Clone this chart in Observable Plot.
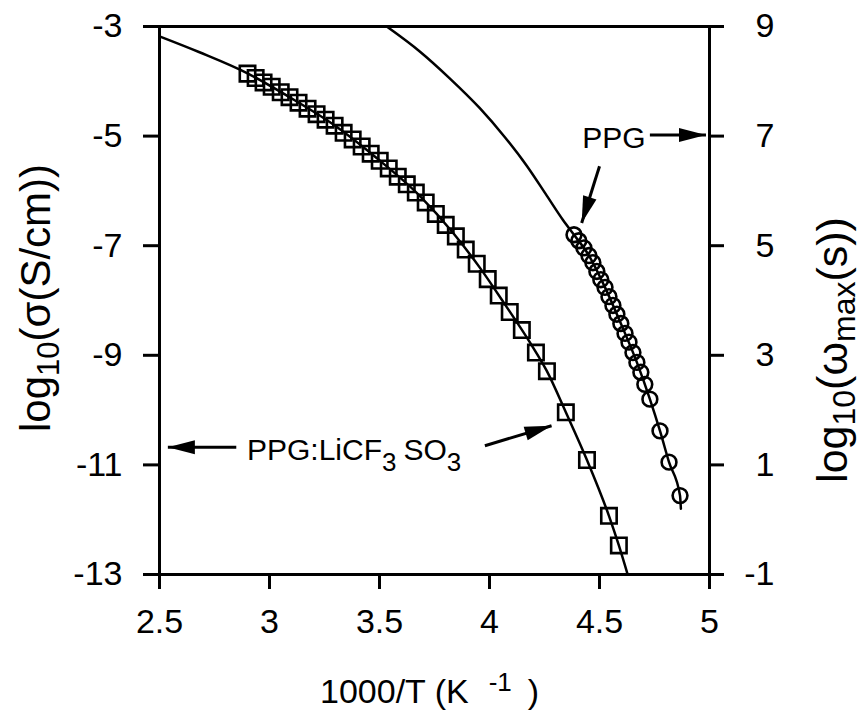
<!DOCTYPE html>
<html><head><meta charset="utf-8">
<script src="https://cdn.jsdelivr.net/npm/d3@7"></script>
<script src="https://cdn.jsdelivr.net/npm/@observablehq/plot@0.6"></script>
<style>
body{margin:0;background:#fff;}
svg{font-family:"Liberation Sans", Arial, sans-serif;}
</style>
</head><body><div id="chart"></div>
<script>
// PPG:LiCF3SO3 conductivity (left axis, log10 sigma)
const sqX = [2.900,2.937,2.973,3.010,3.051,3.091,3.132,3.173,3.214,3.255,3.296,3.337,3.378,3.419,3.460,3.501,3.542,3.583,3.624,3.665,3.710,3.756,3.801,3.847,3.892,3.942,3.992,4.042,4.092,4.147,4.211,4.261,4.347,4.443,4.543,4.588];
const sqY = [-3.86,-3.94,-4.02,-4.10,-4.20,-4.29,-4.39,-4.50,-4.60,-4.70,-4.81,-4.94,-5.06,-5.19,-5.32,-5.45,-5.59,-5.74,-5.88,-6.03,-6.21,-6.42,-6.62,-6.83,-7.07,-7.33,-7.61,-7.91,-8.21,-8.54,-8.95,-9.29,-10.04,-10.91,-11.93,-12.47];
// fitted curve through the squares
const sqFitX = [2.5,2.682,2.900,3.091,3.287,3.487,3.683,3.833,3.956,4.070,4.183,4.261,4.347,4.443,4.543,4.588,4.628];
const sqFitY = [-3.18,-3.47,-3.855,-4.29,-4.78,-5.40,-6.09,-6.76,-7.40,-8.07,-8.76,-9.29,-10.04,-10.91,-11.93,-12.47,-13.0];
// PPG relaxation (right axis, log10 omega_max)
const ciX = [4.384,4.406,4.429,4.452,4.470,4.488,4.506,4.525,4.543,4.561,4.579,4.597,4.616,4.634,4.652,4.670,4.688,4.706,4.729,4.775,4.816,4.866];
const ciW = [5.20,5.09,4.96,4.82,4.69,4.53,4.38,4.24,4.07,3.91,3.75,3.58,3.40,3.24,3.05,2.87,2.69,2.47,2.20,1.62,1.05,0.44];
const ciFitX = [3.533,3.683,3.819,3.956,4.070,4.170,4.261,4.334,4.384,4.452,4.525,4.597,4.670,4.729,4.775,4.816,4.866,4.870];
const ciFitW = [9.0,8.545,8.055,7.51,6.98,6.455,5.91,5.47,5.20,4.82,4.24,3.58,2.87,2.20,1.62,1.05,0.44,0.20];

const xTicks = [2.5,3,3.5,4,4.5,5];
const yTicks = [-3,-5,-7,-9,-11,-13];
const rightOffset = 12; // right axis value = left axis value + 12

// annotations (left-axis units)
const arrowX1 = [2.849, 3.979, 4.500, 4.729];
const arrowY1 = [-10.68, -10.65, -5.55, -4.98];
const arrowX2 = [2.538, 4.282, 4.419, 4.984];
const arrowY2 = [-10.68, -10.285, -6.587, -4.98];

const sq = sqX.map((x,i)=>({x, y:sqY[i]}));
const sqFit = sqFitX.map((x,i)=>({x, y:sqFitY[i]}));
const ci = ciX.map((x,i)=>({x, w:ciW[i]}));
const ciFit = ciFitX.map((x,i)=>({x, w:ciFitW[i]}));
const arrows = arrowX1.map((x1,i)=>({x1, y1:arrowY1[i], x2:arrowX2[i], y2:arrowY2[i]}));

const headSym = {draw(ctx){ ctx.moveTo(0,0); ctx.lineTo(-7,27); ctx.lineTo(7,27); ctx.closePath(); }};

const W = 865, H = 717, mL = 159, mR = 156, mT = 26, mB = 143;
function rotOf(d){
  const dx = (d.x2-d.x1)/(5-2.5)*(W-mL-mR);
  const dy = -(d.y2-d.y1)/10*(H-mT-mB);
  return Math.atan2(dx, -dy)*180/Math.PI;
}

const plot = Plot.plot({
  width: W, height: H,
  marginLeft: mL, marginRight: mR, marginTop: mT, marginBottom: mB,
  x: {domain:[2.5,5]},
  y: {domain:[-13,-3]},
  style: {fontFamily:"'Liberation Sans', Arial, sans-serif", fontSize:"34px", color:"#000", background:"#fff"},
  marks: [
    Plot.line(sqFit, {x:"x", y:"y", stroke:"#000", strokeWidth:2.5, curve:"monotone-x", clip:true}),
    Plot.line(ciFit, {x:"x", y:d=>d.w-rightOffset, stroke:"#000", strokeWidth:2.5, curve:"monotone-x", clip:true}),
    Plot.dot(sq, {x:"x", y:"y", symbol:"square", r:8.7, stroke:"#000", strokeWidth:2.6, fill:"none"}),
    Plot.dot(ci, {x:"x", y:d=>d.w-rightOffset, symbol:"circle", r:7.4, stroke:"#000", strokeWidth:2.6, fill:"none"}),
    Plot.link(arrows, {x1:"x1", y1:"y1", x2:"x2", y2:"y2", stroke:"#000", strokeWidth:3}),
    Plot.dot(arrows, {x:"x2", y:"y2", symbol:headSym, rotate:rotOf, fill:"#000", stroke:"none", r:5}),
    Plot.frame({stroke:"#000", strokeWidth:3}),
    Plot.axisX({ticks:xTicks, tickSize:15, tickPadding:19, tickFormat:d=>String(d), strokeWidth:3, fontSize:34, label:null}),
    Plot.axisY({ticks:yTicks, tickSize:16, tickPadding:21, tickFormat:d=>String(d), strokeWidth:3, fontSize:34, label:null}),
    Plot.axisY({anchor:"right", ticks:yTicks, tickSize:14, tickPadding:51, textAnchor:"end", tickFormat:d=>String(d+rightOffset), strokeWidth:3, fontSize:34, label:null})
  ]
});
document.getElementById("chart").appendChild(plot);

const sx = plot.scale("x"), sy = plot.scale("y");
const svg = d3.select(plot);
const g = svg.append("g").attr("fill","#000").attr("font-size",30).attr("text-anchor","start");

// PPG:LiCF3SO3 label
const t1 = g.append("text").attr("x", sx.apply(2.900)).attr("y", sy.apply(-10.92));
t1.append("tspan").text("PPG:LiCF");
t1.append("tspan").attr("font-size",26).attr("dy",11).attr("dx",0).text("3");
t1.append("tspan").attr("dy",-11).attr("dx",7).text("SO");
t1.append("tspan").attr("font-size",26).attr("dy",11).text("3");

// PPG label
g.append("text").attr("x", sx.apply(4.424)).attr("y", sy.apply(-5.22)).text("PPG");

// axis titles
const xt = g.append("text").attr("x", 320).attr("y", 703).attr("font-size",34);
xt.append("tspan").text("1000/T (K");
xt.append("tspan").attr("font-size",26).attr("dx",20).attr("dy",-12).text("-1");
xt.append("tspan").attr("dx",16).attr("dy",12).text(")");

const lt = g.append("text").attr("text-anchor","middle").attr("font-size",42).attr("transform","translate(50,298) rotate(-90)");
lt.append("tspan").text("log");
lt.append("tspan").attr("font-size",31).attr("dy",9).text("10");
lt.append("tspan").attr("dy",-9).text("(σ(S/cm))");

const rt = g.append("text").attr("text-anchor","middle").attr("font-size",43).attr("transform","translate(847,350) rotate(-90)");
rt.append("tspan").text("log");
rt.append("tspan").attr("font-size",32).attr("dy",8).text("10");
rt.append("tspan").attr("dy",-8).text("(ω");
rt.append("tspan").attr("font-size",32).attr("dy",8).text("max");
rt.append("tspan").attr("dy",-8).text("(s))");
</script>
</body></html>
